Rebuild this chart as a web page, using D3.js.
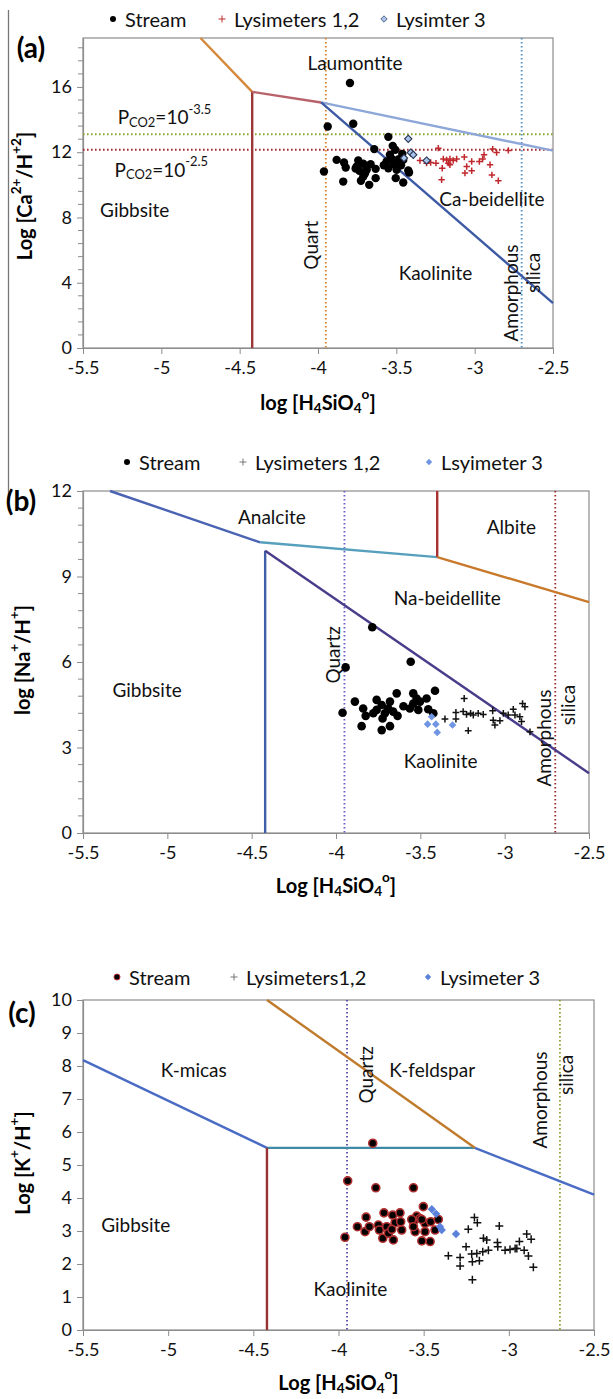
<!DOCTYPE html>
<html>
<head>
<meta charset="utf-8">
<script src="https://cdnjs.cloudflare.com/ajax/libs/d3/7.8.5/d3.min.js"></script>
<style>
  html, body { margin: 0; padding: 0; background: #fff; }
  svg { display: block; font-family: Lato, "Open Sans", sans-serif; }
</style>
</head>
<body>
<svg id="fig" width="613" height="1399"></svg>
<script>
// ---------- shared axis ticks ----------
const xTicks = [-5.5, -5, -4.5, -4, -3.5, -3, -2.5];
const yTicksA = [0, 4, 8, 12, 16];
const yTicksB = [0, 3, 6, 9, 12];
const yTicksC = [0, 1, 2, 3, 4, 5, 6, 7, 8, 9, 10];

// ---------- Panel (a): Ca system ----------
const boundariesA = [
  { id: "gibbLaum", pts: [[-4.75, 19], [-4.42, 15.7]] },
  { id: "gibbKaol", pts: [[-4.42, 15.7], [-4.42, 0]] },
  { id: "laumKaol", pts: [[-4.42, 15.7], [-3.98, 15.05]] },
  { id: "laumBeid", pts: [[-3.98, 15.05], [-2.5, 12.1]] },
  { id: "kaolBeid", pts: [[-3.98, 15.05], [-2.5, 2.75]] }
];
const saturationA = { quartz: -3.95, amorphous: -2.7, pco2High: 13.1, pco2Low: 12.15 };

const streamA = [
  [-3.796, 16.24], [-3.938, 13.58], [-3.775, 13.74], [-3.551, 12.94], [-3.641, 12.19],
  [-3.523, 12.39], [-3.507, 12.15], [-3.541, 11.84], [-3.462, 11.90], [-3.881, 11.53],
  [-3.834, 11.37], [-3.823, 11.06], [-3.743, 11.49], [-3.753, 11.12], [-3.711, 11.29],
  [-3.664, 11.27], [-3.736, 10.86], [-3.689, 10.92], [-3.632, 10.98], [-3.711, 10.51],
  [-3.962, 10.82], [-3.839, 10.20], [-3.726, 10.25], [-3.673, 10.00], [-3.632, 10.41],
  [-3.551, 11.02], [-3.515, 11.27], [-3.485, 11.57], [-3.456, 11.53], [-3.498, 10.92],
  [-3.424, 10.88], [-3.504, 10.41], [-3.456, 10.14], [-3.419, 10.76], [-3.562, 11.43],
  [-3.530, 11.60], [-3.760, 11.00], [-3.700, 10.70], [-3.580, 11.20], [-3.470, 11.20]
];
const lysimeterA = [
  [-3.349, 11.49], [-3.281, 11.37], [-3.247, 11.33], [-3.232, 12.25], [-3.200, 11.58],
  [-3.179, 11.53], [-3.168, 11.33], [-3.158, 11.58], [-3.137, 11.49], [-3.115, 11.58],
  [-3.066, 11.70], [-3.207, 11.02], [-3.211, 10.31], [-3.158, 11.23], [-3.019, 11.43],
  [-2.970, 11.43], [-2.949, 11.58], [-2.940, 11.84], [-2.902, 11.23], [-3.051, 11.12],
  [-3.062, 10.72], [-3.019, 10.86], [-2.885, 12.19], [-2.860, 11.98], [-2.785, 12.11],
  [-2.890, 10.61], [-2.849, 10.25], [-3.307, 11.33]
];
const lysimeter3A = [
  [-3.424, 12.82], [-3.408, 11.98], [-3.392, 11.84], [-3.451, 11.64], [-3.307, 11.49]
];

// ---------- Panel (b): Na system ----------
const boundariesB = [
  { id: "gibbAnal", pts: [[-5.34, 12], [-4.45, 10.2]] },
  { id: "analBeid", pts: [[-4.45, 10.2], [-3.4, 9.68]] },
  { id: "gibbKaol", pts: [[-4.42, 9.9], [-4.42, 0]] },
  { id: "beidKaol", pts: [[-4.42, 9.9], [-2.5, 2.1]] },
  { id: "analAlb", pts: [[-3.4, 12], [-3.4, 9.68]] },
  { id: "albBeid", pts: [[-3.4, 9.68], [-2.5, 8.1]] }
];
const saturationB = { quartz: -3.95, amorphous: -2.7 };

const streamB = [
  [-3.943, 5.81], [-3.785, 7.22], [-3.557, 6.01], [-3.961, 4.22], [-3.888, 4.61],
  [-3.839, 4.37], [-3.824, 4.11], [-3.848, 3.75], [-3.759, 4.67], [-3.759, 4.32],
  [-3.729, 4.49], [-3.710, 4.20], [-3.724, 4.02], [-3.729, 3.61], [-3.680, 4.61],
  [-3.680, 3.75], [-3.640, 4.90], [-3.635, 4.11], [-3.661, 4.26], [-3.690, 4.37],
  [-3.542, 4.90], [-3.522, 4.72], [-3.502, 4.61], [-3.562, 4.37], [-3.512, 4.32],
  [-3.463, 4.72], [-3.413, 4.99], [-3.453, 4.34], [-3.423, 4.20], [-3.542, 4.54],
  [-3.779, 4.20], [-3.600, 4.45]
];
const lysimeterB = [
  [-3.240, 4.72], [-3.354, 4.00], [-3.289, 4.23], [-3.246, 4.26], [-3.226, 4.16],
  [-3.202, 4.20], [-3.186, 4.14], [-3.157, 4.20], [-3.127, 4.16], [-3.216, 3.59],
  [-3.289, 4.00], [-3.071, 4.29], [-3.068, 3.96], [-3.028, 3.94], [-3.058, 3.79],
  [-3.008, 4.20], [-2.979, 4.14], [-2.949, 4.34], [-2.939, 4.14], [-2.910, 4.08],
  [-2.894, 4.54], [-2.880, 4.43], [-2.900, 3.91], [-2.850, 3.55]
];
const lysimeter3B = [
  [-3.433, 4.08], [-3.408, 3.82], [-3.400, 3.53], [-3.309, 3.79], [-3.457, 3.82]
];

// ---------- Panel (c): K system ----------
const boundariesC = [
  { id: "micaGibb", pts: [[-5.5, 8.18], [-4.42, 5.52]] },
  { id: "micaKaol", pts: [[-4.42, 5.52], [-3.2, 5.52]] },
  { id: "feldKaol", pts: [[-3.2, 5.52], [-2.5, 4.1]] },
  { id: "micaFeld", pts: [[-4.42, 10], [-3.2, 5.52]] },
  { id: "gibbKaol", pts: [[-4.42, 5.52], [-4.42, 0]] }
];
const saturationC = { quartz: -3.95, amorphous: -2.7 };

const streamC = [
  [-3.799, 5.66], [-3.946, 4.52], [-3.781, 4.31], [-3.560, 4.31], [-3.962, 2.81],
  [-3.838, 3.42], [-3.889, 3.13], [-3.844, 2.98], [-3.819, 3.13], [-3.766, 3.18],
  [-3.760, 3.03], [-3.733, 3.55], [-3.717, 3.13], [-3.740, 2.78], [-3.707, 2.93],
  [-3.682, 3.48], [-3.668, 3.25], [-3.687, 3.05], [-3.678, 2.73], [-3.639, 3.55],
  [-3.635, 3.28], [-3.629, 3.03], [-3.560, 3.28], [-3.541, 3.45], [-3.521, 3.38],
  [-3.550, 2.98], [-3.502, 3.74], [-3.492, 3.23], [-3.459, 3.28], [-3.492, 2.98],
  [-3.511, 2.70], [-3.462, 2.68], [-3.414, 3.35], [-3.433, 3.03], [-3.570, 3.35],
  [-3.560, 3.13], [-3.511, 3.35]
];
const lysimeterC = [
  [-3.202, 3.41], [-3.185, 3.25], [-3.238, 3.05], [-3.056, 3.15], [-3.355, 2.25],
  [-3.286, 2.20], [-3.286, 1.94], [-3.251, 2.52], [-3.218, 2.30], [-3.214, 2.07],
  [-3.188, 2.32], [-3.173, 2.10], [-3.214, 1.52], [-3.149, 2.78], [-3.130, 2.73],
  [-3.153, 2.37], [-3.120, 2.42], [-3.067, 2.65], [-3.065, 2.52], [-3.022, 2.42],
  [-2.993, 2.44], [-2.963, 2.47], [-2.953, 2.47], [-2.938, 2.68], [-2.910, 2.42],
  [-2.895, 2.91], [-2.869, 2.75], [-2.885, 2.24], [-2.856, 1.90]
];
const lysimeter3C = [
  [-3.452, 3.66], [-3.427, 3.52], [-3.404, 3.13], [-3.394, 3.03], [-3.310, 2.91]
];

// ---------- drawing ----------
const svg = d3.select("#fig");
const FONT = 'Lato, "Open Sans", sans-serif';

// left frame rule of the first figure
svg.append("line").attr("x1", 8.5).attr("x2", 8.5).attr("y1", 10).attr("y2", 505)
  .attr("stroke", "#777").attr("stroke-width", 1.3);

// text with sub/superscript runs; size is the parent font size in px
function rich(sel, parts, size) {
  let shift = 0;
  parts.forEach(([t, m]) => {
    const ts = sel.append("tspan").text(t);
    let target = 0;
    if (m === "sub") { target = 0.28 * size; ts.attr("font-size", 0.68 * size); }
    if (m === "sup") { target = -0.38 * size; ts.attr("font-size", 0.68 * size); }
    if (target !== shift) ts.attr("dy", target - shift);
    shift = target;
  });
}

function panel(cfg) {
  const g = svg.append("g");
  const x = d3.scaleLinear().domain([-5.5, -2.5]).range([cfg.left, cfg.right]);
  const y = d3.scaleLinear().domain(cfg.yDomain).range([cfg.bottom, cfg.top]);
  const W = cfg.right - cfg.left, H = cfg.bottom - cfg.top;

  // plot frame
  g.append("rect").attr("x", cfg.left).attr("y", cfg.top).attr("width", W).attr("height", H)
    .attr("fill", "none").attr("stroke", "#8c8c8c").attr("stroke-width", 1.2);

  // x axis
  const xa = g.append("g").attr("transform", `translate(0,${cfg.bottom})`)
    .call(d3.axisBottom(x).tickValues(xTicks).tickSize(6).tickSizeOuter(0).tickPadding(7)
      .tickFormat(d => String(d)));
  xa.select(".domain").attr("stroke", "#8c8c8c").attr("stroke-width", 1.2);
  xa.selectAll(".tick line").attr("stroke", "#8c8c8c");
  xa.selectAll("text").attr("font-size", 18).attr("font-family", FONT).attr("fill", "#111");

  // y axis with minor ticks
  if (cfg.minorStep) {
    const minors = d3.range(cfg.minorStep, cfg.yDomain[1] + 1e-6, cfg.minorStep)
      .filter(v => !cfg.yTicks.some(t => Math.abs(t - v) < 1e-6));
    g.selectAll(null).data(minors).join("line")
      .attr("x1", cfg.left - 5).attr("x2", cfg.left)
      .attr("y1", d => y(d)).attr("y2", d => y(d))
      .attr("stroke", "#8c8c8c").attr("stroke-width", 1);
  }
  const ya = g.append("g").attr("transform", `translate(${cfg.left},0)`)
    .call(d3.axisLeft(y).tickValues(cfg.yTicks).tickSize(6).tickSizeOuter(0).tickPadding(5)
      .tickFormat(d3.format("d")));
  ya.select(".domain").attr("stroke", "#8c8c8c").attr("stroke-width", 1.2);
  ya.selectAll(".tick line").attr("stroke", "#8c8c8c");
  ya.selectAll("text").attr("font-size", 18).attr("font-family", FONT).attr("fill", "#111");

  // saturation lines (dotted)
  const dot = (sel, c) => sel.attr("stroke", c).attr("stroke-width", 1.8).attr("stroke-dasharray", "1.6,2.4");
  dot(g.append("line").attr("x1", x(cfg.sat.quartz)).attr("x2", x(cfg.sat.quartz))
    .attr("y1", cfg.top).attr("y2", cfg.bottom), cfg.colors.quartz);
  dot(g.append("line").attr("x1", x(cfg.sat.amorphous)).attr("x2", x(cfg.sat.amorphous))
    .attr("y1", cfg.top).attr("y2", cfg.bottom), cfg.colors.amorphous);
  if (cfg.sat.pco2High !== undefined) {
    dot(g.append("line").attr("x1", cfg.left).attr("x2", cfg.right)
      .attr("y1", y(cfg.sat.pco2High)).attr("y2", y(cfg.sat.pco2High)), cfg.colors.pco2High);
    dot(g.append("line").attr("x1", cfg.left).attr("x2", cfg.right)
      .attr("y1", y(cfg.sat.pco2Low)).attr("y2", y(cfg.sat.pco2Low)), cfg.colors.pco2Low);
  }

  // stability-field boundaries
  const line = d3.line().x(d => x(d[0])).y(d => y(d[1]));
  g.selectAll(null).data(cfg.bounds).join("path")
    .attr("d", d => line(d.pts)).attr("fill", "none")
    .attr("stroke", d => cfg.colors[d.id]).attr("stroke-width", 2.4);

  // field labels
  cfg.labels.forEach(l => {
    const fs = 19;
    const t = g.append("text").attr("font-size", fs).attr("font-family", FONT).attr("fill", "#111")
      .attr("text-anchor", "middle").attr("dominant-baseline", "central");
    if (l.rot) t.attr("transform", `translate(${x(l.x)},${y(l.y)}) rotate(-90)`);
    else t.attr("x", x(l.x)).attr("y", y(l.y));
    if (l.parts) rich(t, l.parts, fs); else t.text(l.t);
  });

  // samples
  const pd = cfg.plus;
  g.selectAll(null).data(cfg.lys).join("path")
    .attr("transform", d => `translate(${x(d[0])},${y(d[1])})`)
    .attr("d", `M${-pd},0H${pd}M0,${-pd}V${pd}`)
    .attr("stroke", cfg.colors.lys).attr("stroke-width", 1.5).attr("fill", "none");
  g.selectAll(null).data(cfg.stream).join("circle")
    .attr("cx", d => x(d[0])).attr("cy", d => y(d[1])).attr("r", cfg.r)
    .attr("fill", "#000").attr("stroke", cfg.colors.streamEdge || "none").attr("stroke-width", 1.6);
  const dm = cfg.dia;
  g.selectAll(null).data(cfg.lys3).join("path")
    .attr("transform", d => `translate(${x(d[0])},${y(d[1])})`)
    .attr("d", `M0,${-dm}L${dm},0L0,${dm}L${-dm},0Z`)
    .attr("fill", cfg.colors.lys3).attr("stroke", cfg.colors.lys3Edge || "none").attr("stroke-width", 1.1);

  // legend
  const lg = g.append("g").attr("font-family", FONT).attr("font-size", 20).attr("fill", "#111");
  const ly = cfg.legendY;
  lg.append("circle").attr("cx", cfg.legendX[0]).attr("cy", ly).attr("r", 3)
    .attr("fill", "#000").attr("stroke", cfg.colors.streamEdge || "none").attr("stroke-width", 1);
  lg.append("text").attr("x", cfg.legendX[0] + 12).attr("y", ly).attr("dominant-baseline", "central").text(cfg.legend[0]);
  lg.append("path").attr("transform", `translate(${cfg.legendX[1]},${ly})`).attr("d", "M-3.5,0H3.5M0,-3.5V3.5")
    .attr("stroke", cfg.colors.lysLegend || cfg.colors.lys).attr("stroke-width", 1);
  lg.append("text").attr("x", cfg.legendX[1] + 12).attr("y", ly).attr("dominant-baseline", "central").text(cfg.legend[1]);
  lg.append("path").attr("transform", `translate(${cfg.legendX[2]},${ly})`).attr("d", "M0,-3.2L3.2,0L0,3.2L-3.2,0Z")
    .attr("fill", cfg.colors.lys3).attr("stroke", cfg.colors.lys3Edge || "none").attr("stroke-width", 0.7);
  lg.append("text").attr("x", cfg.legendX[2] + 12).attr("y", ly).attr("dominant-baseline", "central").text(cfg.legend[2]);

  // panel tag
  g.append("text").attr("x", cfg.tag[0]).attr("y", cfg.tag[1]).attr("font-size", 28).attr("font-weight", 700)
    .attr("font-family", FONT).attr("text-anchor", "middle").attr("dominant-baseline", "central").text(cfg.tagText);

  // axis titles
  const xt = g.append("text").attr("x", (cfg.left + cfg.right) / 2).attr("y", cfg.xTitleY)
    .attr("font-size", 20).attr("font-weight", 700).attr("font-family", FONT).attr("text-anchor", "middle")
    .attr("dominant-baseline", "central");
  rich(xt, [[cfg.xTitleWord + " [H", ""], ["4", "sub"], ["SiO", ""], ["4", "sub"], ["o", "sup"], ["]", ""]], 20);
  const yt = g.append("text").attr("transform", `translate(${cfg.yTitle[0]},${cfg.yTitle[1]}) rotate(-90)`)
    .attr("font-size", 20).attr("font-weight", 700).attr("font-family", FONT).attr("text-anchor", "middle")
    .attr("dominant-baseline", "central");
  rich(yt, cfg.yTitleParts, 20);
}

panel({
  left: 83, right: 553, top: 38, bottom: 348, yDomain: [0, 19], yTicks: yTicksA, minorStep: 0.8,
  bounds: boundariesA, sat: saturationA, stream: streamA, lys: lysimeterA, lys3: lysimeter3A,
  r: 4.2, plus: 3.2, dia: 3.6,
  colors: {
    gibbLaum: "#d4883a", gibbKaol: "#9c3838", laumKaol: "#b8636b", laumBeid: "#8ea7d9", kaolBeid: "#3d5aa5",
    quartz: "#d9822b", amorphous: "#4d8ec2", pco2High: "#8aa52e", pco2Low: "#a2282d",
    lys: "#c0282d", lys3: "#a9c4ec", lys3Edge: "#26324f"
  },
  labels: [
    { t: "Laumontite", x: -3.764, y: 17.5 },
    { t: "Gibbsite", x: -5.17, y: 8.5 },
    { t: "Ca-beidellite", x: -2.89, y: 9.18 },
    { t: "Kaolinite", x: -3.25, y: 4.65 },
    { t: "Quart", x: -4.05, y: 6.3, rot: true },
    { t: "Amorphous", x: -2.77, y: 3.37, rot: true },
    { t: "silica", x: -2.63, y: 4.6, rot: true },
    { parts: [["P", ""], ["CO2", "sub"], ["=10", ""], ["-3.5", "sup"]], x: -4.98, y: 14.2 },
    { parts: [["P", ""], ["CO2", "sub"], ["=10", ""], ["-2.5", "sup"]], x: -5.0, y: 11.0 }
  ],
  legend: ["Stream", "Lysimeters 1,2", "Lysimter 3"], legendX: [113, 222, 384], legendY: 19,
  tag: [31, 47], tagText: "(a)",
  xTitleWord: "log", xTitleY: 402,
  yTitle: [24, 196], yTitleParts: [["Log [Ca", ""], ["2+", "sup"], ["/H", ""], ["+2", "sup"], ["]", ""]]
});

panel({
  left: 83, right: 589, top: 491, bottom: 833, yDomain: [0, 12], yTicks: yTicksB, minorStep: 0.6,
  bounds: boundariesB, sat: saturationB, stream: streamB, lys: lysimeterB, lys3: lysimeter3B,
  r: 4.3, plus: 3.4, dia: 3.8,
  colors: {
    gibbAnal: "#4a63b3", analBeid: "#56a0bd", gibbKaol: "#3f5ea8", beidKaol: "#4a3c8a",
    analAlb: "#a83232", albBeid: "#c8792b",
    quartz: "#6b59c4", amorphous: "#992a2a",
    lys: "#111", lysLegend: "#777", lys3: "#6f95e3"
  },
  labels: [
    { t: "Analcite", x: -4.38, y: 11.12 },
    { t: "Albite", x: -2.96, y: 10.74 },
    { t: "Na-beidellite", x: -3.34, y: 8.28 },
    { t: "Gibbsite", x: -5.12, y: 5.05 },
    { t: "Kaolinite", x: -3.38, y: 2.56 },
    { t: "Quartz", x: -4.02, y: 6.25, rot: true },
    { t: "Amorphous", x: -2.77, y: 3.33, rot: true },
    { t: "silica", x: -2.63, y: 4.49, rot: true }
  ],
  legend: ["Stream", "Lysimeters 1,2", "Lsyimeter 3"], legendX: [127, 243, 429], legendY: 462,
  tag: [21, 500], tagText: "(b)",
  xTitleWord: "Log", xTitleY: 885,
  yTitle: [22, 660], yTitleParts: [["log [Na", ""], ["+", "sup"], ["/H", ""], ["+", "sup"], ["]", ""]]
});

panel({
  left: 83, right: 594, top: 1000, bottom: 1330, yDomain: [0, 10], yTicks: yTicksC, minorStep: 0,
  bounds: boundariesC, sat: saturationC, stream: streamC, lys: lysimeterC, lys3: lysimeter3C,
  r: 4.0, plus: 4.0, dia: 4.2,
  colors: {
    micaGibb: "#4a6cc4", micaKaol: "#3f8aa6", feldKaol: "#4a6cc4", micaFeld: "#c07a2c", gibbKaol: "#963232",
    quartz: "#5a48a3", amorphous: "#8aa52e",
    lys: "#111", lysLegend: "#777", lys3: "#5b82db", streamEdge: "#b03030"
  },
  labels: [
    { t: "K-micas", x: -4.85, y: 7.88 },
    { t: "K-feldspar", x: -3.45, y: 7.88 },
    { t: "Gibbsite", x: -5.19, y: 3.21 },
    { t: "Kaolinite", x: -3.93, y: 1.27 },
    { t: "Quartz", x: -3.84, y: 7.73, rot: true },
    { t: "Amorphous", x: -2.82, y: 6.97, rot: true },
    { t: "silica", x: -2.67, y: 7.73, rot: true }
  ],
  legend: ["Stream", "Lysimeters1,2", "Lysimeter 3"], legendX: [117, 234, 428], legendY: 977,
  tag: [22, 1012], tagText: "(c)",
  xTitleWord: "Log", xTitleY: 1382,
  yTitle: [22, 1163], yTitleParts: [["Log [K", ""], ["+", "sup"], ["/H", ""], ["+", "sup"], ["]", ""]]
});
</script>
</body>
</html>
